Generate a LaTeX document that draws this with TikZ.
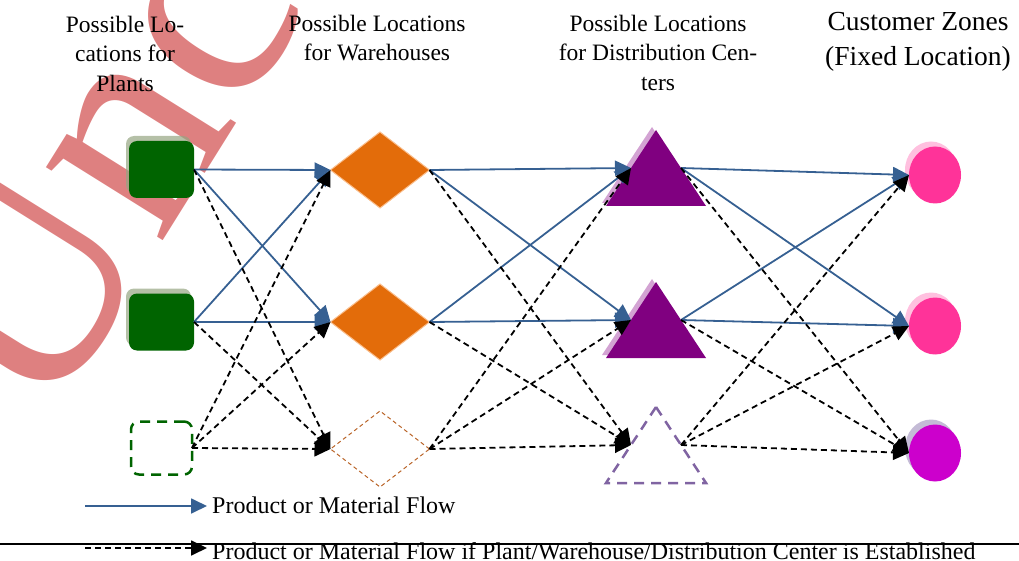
\documentclass[tikz,border=0pt]{standalone}
\usepackage{fontspec}
\setmainfont{Liberation Serif}
\usetikzlibrary{arrows.meta,shapes.geometric,shadows}

\definecolor{plantgreen}{RGB}{0,100,0}
\definecolor{plantshade}{RGB}{150,165,130}
\definecolor{whorange}{RGB}{227,108,10}
\definecolor{whedge}{RGB}{250,190,140}
\definecolor{whbrown}{RGB}{185,100,40}
\definecolor{dcpurple}{RGB}{128,0,128}
\definecolor{dcshade}{RGB}{200,140,200}
\definecolor{dclilac}{RGB}{128,100,162}
\definecolor{czpink}{RGB}{255,51,153}
\definecolor{czpinkshade}{RGB}{255,185,220}
\definecolor{czmag}{RGB}{204,0,204}
\definecolor{czmagshade}{RGB}{190,180,210}
\definecolor{flowblue}{RGB}{54,96,146}
\definecolor{wmred}{RGB}{222,128,128}

\begin{document}
\begin{tikzpicture}[x=1pt,y=-1pt,
  title/.style={align=center, inner sep=0pt, anchor=north,
    font=\fontsize{23.5}{29.5}\selectfont},
  bigtitle/.style={title, font=\fontsize{27.5}{35}\selectfont},
  legendtxt/.style={inner sep=0pt, anchor=base west,
    font=\fontsize{24}{29.5}\selectfont},
  plant/.style={rectangle, rounded corners=8pt, minimum width=65pt,
    minimum height=57pt, inner sep=0pt, outer sep=0pt},
  plantbuilt/.style={plant, fill=plantgreen,
    drop shadow={shadow xshift=-3pt, shadow yshift=5pt, fill=plantshade, opacity=0.7}},
  plantopt/.style={plant, draw=plantgreen, line width=2.5pt,
    minimum width=61pt, minimum height=53pt, dash pattern=on 10pt off 7pt},
  wh/.style={diamond, minimum width=99pt, minimum height=76pt,
    inner sep=0pt, outer sep=0pt},
  whbuilt/.style={wh, fill=whorange, draw=whedge, line width=1pt},
  whopt/.style={wh, draw=whbrown, line width=1pt, dash pattern=on 4pt off 3pt},
  dc/.style={isosceles triangle, isosceles triangle stretches,
    shape border rotate=90, minimum width=100pt, minimum height=76pt,
    inner sep=0pt, outer sep=0pt, anchor=lower side},
  dcbuilt/.style={dc, fill=dcpurple,
    drop shadow={shadow xshift=-4pt, shadow yshift=3pt, fill=dcshade, opacity=0.8}},
  dcopt/.style={dc, draw=dclilac, line width=2.5pt, dash pattern=on 10pt off 7pt},
  zone/.style={ellipse, minimum width=52pt, minimum height=57pt,
    inner sep=0pt, outer sep=0pt},
  zonepink/.style={zone, fill=czpink,
    drop shadow={shadow xshift=-4pt, shadow yshift=5pt, fill=czpinkshade, opacity=0.9}},
  zonemag/.style={zone, fill=czmag,
    drop shadow={shadow xshift=-4pt, shadow yshift=5pt, fill=czmagshade, opacity=0.9}},
  flow/.style={draw=flowblue, line width=1.8pt,
    -{Triangle[length=16pt,width=15pt]}},
  optflow/.style={draw=black, line width=1.8pt, dash pattern=on 6pt off 4pt,
    -{Triangle[length=16pt,width=15pt]}}
]
\useasboundingbox (0,0) rectangle (1019,561);

% red stamp lettering in the upper left corner
\begin{scope}
  \clip (0,0) rectangle (1019,561);
  \node[rotate=58, anchor=base west, inner sep=0pt, text=wmred,
    font=\fontsize{300}{300}\selectfont] (stamp) at (45,430) {Unc};
\end{scope}

% column headings
\node[title] (hplant) at (125,15.8) {Possible Lo-\\cations for\\Plants};
\node[title] (hwh) at (377,14.8) {Possible Locations\\for Warehouses};
\node[title] (hdc) at (658,14.8) {Possible Locations\\for Distribution Cen-\\ters};
\node[bigtitle] (hcz) at (918,12.2) {Customer Zones\\(Fixed Location)};

% plants
\node[plantbuilt] (p1) at (161.5,169.5) {};
\node[plantbuilt] (p2) at (161.5,322) {};
\node[plantopt]   (p3) at (161.5,448) {};

% warehouses
\node[whbuilt] (w1) at (380,170) {};
\node[whbuilt] (w2) at (380,322) {};
\node[whopt]   (w3) at (380,449) {};

% distribution centers (placed by the middle of the base)
\node[dcbuilt] (d1) at (656,206) {};
\node[dcbuilt] (d2) at (656,358) {};
\node[dcopt]   (d3) at (656,483) {};

% customer zones
\node[zonepink] (c1) at (935,175) {};
\node[zonepink] (c2) at (935,326) {};
\node[zonemag]  (c3) at (935,453) {};

% plants -> warehouses
\foreach \a in {p1,p2} \foreach \b in {w1,w2}
  \draw[flow] (\a.east) -- (\b.west);
\foreach \a/\b in {p1/w3,p2/w3,p3/w1,p3/w2,p3/w3}
  \draw[optflow] (\a.east) -- (\b.west);

% warehouses -> distribution centers
\foreach \a in {w1,w2} \foreach \b in {d1,d2}
  \draw[flow] (\a.east) -- (\b.left side);
\foreach \a/\b in {w1/d3,w2/d3,w3/d1,w3/d2,w3/d3}
  \draw[optflow] (\a.east) -- (\b.left side);

% distribution centers -> customer zones
\foreach \a in {d1,d2} \foreach \b in {c1,c2}
  \draw[flow] (\a.right side) -- (\b.west);
\foreach \a/\b in {d1/c3,d2/c3,d3/c1,d3/c2,d3/c3}
  \draw[optflow] (\a.right side) -- (\b.west);

% legend
\coordinate (l1s) at (85,506);
\coordinate (l1e) at (207,506);
\draw[flow] (l1s) -- (l1e);
\node[legendtxt] (l1t) at (212,513) {Product or Material Flow};
\coordinate (l2s) at (85,548);
\coordinate (l2e) at (207,548);
\draw[optflow] (l2s) -- (l2e);
\node[legendtxt] (l2t) at (212,559)
  {Product or Material Flow if Plant/Warehouse/Distribution Center is Established};

% horizontal rule across the foot
\coordinate (rl) at (0,544);
\coordinate (rr) at (1019,544);
\draw[line width=2pt] (rl) -- (rr);
\end{tikzpicture}
\end{document}
